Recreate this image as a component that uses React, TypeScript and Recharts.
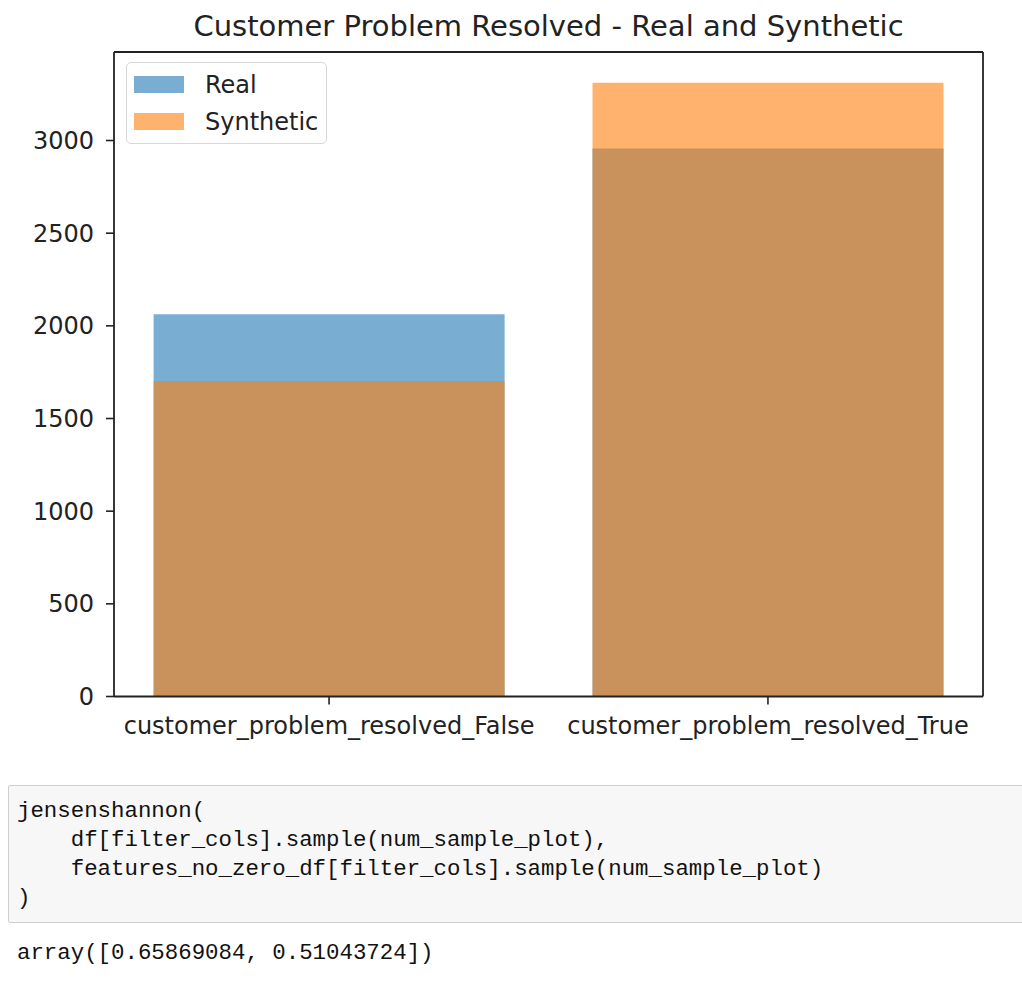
import {
  BarChart,
  Bar,
  XAxis,
  YAxis,
} from "recharts";

const categories = [
  "customer_problem_resolved_False",
  "customer_problem_resolved_True",
];
const realCounts = [2062, 2957];
const syntheticCounts = [1703, 3312];
const yTicks = [0, 500, 1000, 1500, 2000, 2500, 3000];
const xTicks = [0, 1];

const codeLines = [
  "jensenshannon(",
  "    df[filter_cols].sample(num_sample_plot),",
  "    features_no_zero_df[filter_cols].sample(num_sample_plot)",
  ")",
];
const outputText = "array([0.65869084, 0.51043724])";

const data = categories.map((name, i) => ({
  x: i,
  name,
  real: realCounts[i],
  synthetic: syntheticCounts[i],
}));

const FONT = "'DejaVu Sans', sans-serif";
const MONO = "'Liberation Mono', 'DejaVu Sans Mono', monospace";
const INK = "#222";

const series = [
  { name: "Real", color: "#1f77b4" },
  { name: "Synthetic", color: "#ff7f0e" },
];

function LegendBox() {
  return (
    <div
      style={{
        position: "absolute",
        left: 126,
        top: 62,
        width: 199,
        height: 77,
        border: "1px solid #d8d8d8",
        borderRadius: 5,
        background: "rgba(255,255,255,0.8)",
        paddingTop: 3,
        boxSizing: "content-box",
      }}
    >
      {series.map((s) => (
        <div
          key={s.name}
          style={{ display: "flex", alignItems: "center", height: 37 }}
        >
          <span
            style={{
              display: "inline-block",
              width: 50,
              height: 17,
              marginLeft: 7,
              background: s.color,
              opacity: 0.6,
            }}
          />
          <span
            style={{
              marginLeft: 21,
              fontFamily: FONT,
              fontSize: 24,
              color: INK,
              lineHeight: "24px",
            }}
          >
            {s.name}
          </span>
        </div>
      ))}
    </div>
  );
}

export default function App() {
  const tick = { fill: INK, fontSize: 24, fontFamily: FONT };
  return (
    <div
      style={{
        position: "absolute",
        left: 0,
        top: 0,
        width: 1022,
        height: 982,
        background: "#fff",
      }}
    >
      <div
        style={{
          position: "absolute",
          left: 114,
          top: 12,
          width: 869,
          textAlign: "center",
          fontFamily: FONT,
          fontSize: 29,
          lineHeight: "29px",
          color: INK,
        }}
      >
        Customer Problem Resolved - Real and Synthetic
      </div>

      <div style={{ position: "absolute", left: 0, top: 0 }}>
        <BarChart
          width={1022}
          height={760}
          data={data}
          margin={{ top: 51, right: 38, left: 0, bottom: 0 }}
        >
          <XAxis
            xAxisId="bottom"
            type="number"
            dataKey="x"
            domain={[-0.49, 1.49]}
            ticks={xTicks}
            interval={0}
            tickFormatter={(v: number) => categories[v] ?? ""}
            tick={tick}
            tickSize={8}
            tickMargin={12}
            height={63.5}
            axisLine={{ stroke: INK, strokeWidth: 1.8 }}
            tickLine={{ stroke: INK, strokeWidth: 1.6 }}
            allowDataOverflow
          />
          <XAxis
            xAxisId="top"
            orientation="top"
            type="number"
            dataKey="x"
            domain={[-0.49, 1.49]}
            tick={false}
            tickLine={false}
            height={1}
            axisLine={{ stroke: INK, strokeWidth: 1.8 }}
            allowDataOverflow
          />
          <YAxis
            yAxisId="left"
            type="number"
            domain={[0, (m: number) => m * 1.05]}
            ticks={yTicks}
            interval={0}
            tick={tick}
            tickSize={8}
            tickMargin={12}
            width={114}
            axisLine={{ stroke: INK, strokeWidth: 1.8 }}
            tickLine={{ stroke: INK, strokeWidth: 1.6 }}
            allowDataOverflow
          />
          <YAxis
            yAxisId="right"
            orientation="right"
            type="number"
            tick={false}
            tickLine={false}
            width={1}
            axisLine={{ stroke: INK, strokeWidth: 1.8 }}
          />
          <Bar
            xAxisId="bottom"
            yAxisId="left"
            dataKey="real"
            name="Real"
            fill="#1f77b4"
            fillOpacity={0.6}
            barSize={351}
            isAnimationActive={false}
          />
          <Bar
            xAxisId="top"
            yAxisId="left"
            dataKey="synthetic"
            name="Synthetic"
            fill="#ff7f0e"
            fillOpacity={0.6}
            barSize={351}
            isAnimationActive={false}
          />
        </BarChart>
      </div>

      <LegendBox />

      <div
        style={{
          position: "absolute",
          left: 8,
          top: 785,
          width: 1030,
          height: 138,
          background: "#f7f7f7",
          border: "1px solid #cfcfcf",
          borderRadius: 2,
          boxSizing: "border-box",
          padding: "11px 0 0 8px",
          fontFamily: MONO,
          fontSize: 22.4,
          lineHeight: "29px",
          color: "#111",
          whiteSpace: "pre",
        }}
      >
        {codeLines.map((l, i) => (
          <div key={i}>{l}</div>
        ))}
      </div>
      <div
        style={{
          position: "absolute",
          left: 17,
          top: 939,
          fontFamily: MONO,
          fontSize: 22.4,
          lineHeight: "29px",
          color: "#111",
          whiteSpace: "pre",
        }}
      >
        {outputText}
      </div>
    </div>
  );
}
